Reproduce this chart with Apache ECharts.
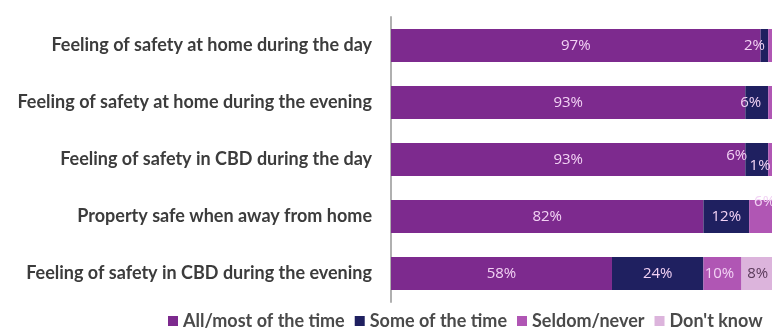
<!DOCTYPE html>
<html>
<head>
<meta charset="utf-8">
<script src="https://cdn.jsdelivr.net/npm/echarts@6/dist/echarts.min.js"></script>
<style>
  html, body { margin: 0; padding: 0; background: #fff; }
  #chart { width: 772px; height: 329px; }
</style>
</head>
<body>
<div id="chart"></div>
<script>
// Survey categories, top to bottom
const categories = [
  'Feeling of safety at home during the day',
  'Feeling of safety at home during the evening',
  'Feeling of safety in CBD during the day',
  'Property safe when away from home',
  'Feeling of safety in CBD during the evening'
];

// Response shares (%) per category
const allMost   = [97, 93, 93, 82, 58];
const someTime  = [2, 6, 6, 12, 24];
const seldom    = [1, 1, 1, 6, 10];
const dontKnow  = [0, 0, 0, 0, 8];

const seriesNames = ['All/most of the time', 'Some of the time', 'Seldom/never', "Don't know"];
const colors = ['#7d2a8e', '#1f2060', '#b056b4', '#dcb4dc'];

const labelFont = 'Open Sans';

// Per-bar label tweaks for the narrow segments at the right end
function withLabels(values, tweaks) {
  return values.map((v, i) => {
    const t = tweaks[i];
    if (t === null) return { value: v, label: { show: false } };
    if (t) return { value: v, label: Object.assign({ show: true }, t) };
    return { value: v };
  });
}

const chart = echarts.init(document.getElementById('chart'), null, { renderer: 'canvas' });

const baseLabel = {
  show: true,
  position: 'inside',
  formatter: '{c}%',
  color: '#f2d2f4',
  fontFamily: labelFont,
  fontSize: 15
};

chart.setOption({
  animation: false,
  backgroundColor: '#ffffff',
  grid: { left: 391, top: 17, width: 381, height: 285, containLabel: false },
  xAxis: {
    type: 'value', min: 0, max: 100,
    show: false
  },
  yAxis: {
    type: 'category',
    data: categories,
    inverse: true,
    axisLine: { show: true, lineStyle: { color: '#b0b0b0', width: 2 } },
    axisTick: { show: false },
    axisLabel: {
      margin: 19,
      color: '#3c3c3c',
      fontFamily: 'Lato',
      fontWeight: 'bold',
      fontSize: 18
    }
  },
  legend: {
    data: seriesNames,
    left: 163,
    top: 312,
    padding: [0, 5],
    itemWidth: 10,
    itemHeight: 10,
    itemGap: 10,
    icon: 'rect',
    textStyle: { color: '#4a4a4a', fontFamily: 'Lato', fontWeight: 'bold', fontSize: 18 }
  },
  series: [
    {
      name: seriesNames[0], type: 'bar', stack: 'total', barWidth: 33,
      itemStyle: { color: colors[0] },
      label: baseLabel,
      data: allMost
    },
    {
      name: seriesNames[1], type: 'bar', stack: 'total', barWidth: 33,
      itemStyle: { color: colors[1] },
      label: baseLabel,
      data: withLabels(someTime, [
        { offset: [-10, 0] },
        { offset: [-6, 0] },
        { offset: [-20, -4] },
        undefined,
        undefined
      ])
    },
    {
      name: seriesNames[2], type: 'bar', stack: 'total', barWidth: 33,
      itemStyle: { color: colors[2] },
      label: baseLabel,
      data: withLabels(seldom, [
        null,
        null,
        { offset: [-10, 6] },
        { offset: [4, -15] },
        { offset: [-3, 0] }
      ])
    },
    {
      name: seriesNames[3], type: 'bar', stack: 'total', barWidth: 33,
      itemStyle: { color: colors[3] },
      label: Object.assign({}, baseLabel, { color: '#5a3a5a' }),
      data: withLabels(dontKnow, [null, null, null, null, { offset: [1, 0] }])
    }
  ]
});
</script>
</body>
</html>
